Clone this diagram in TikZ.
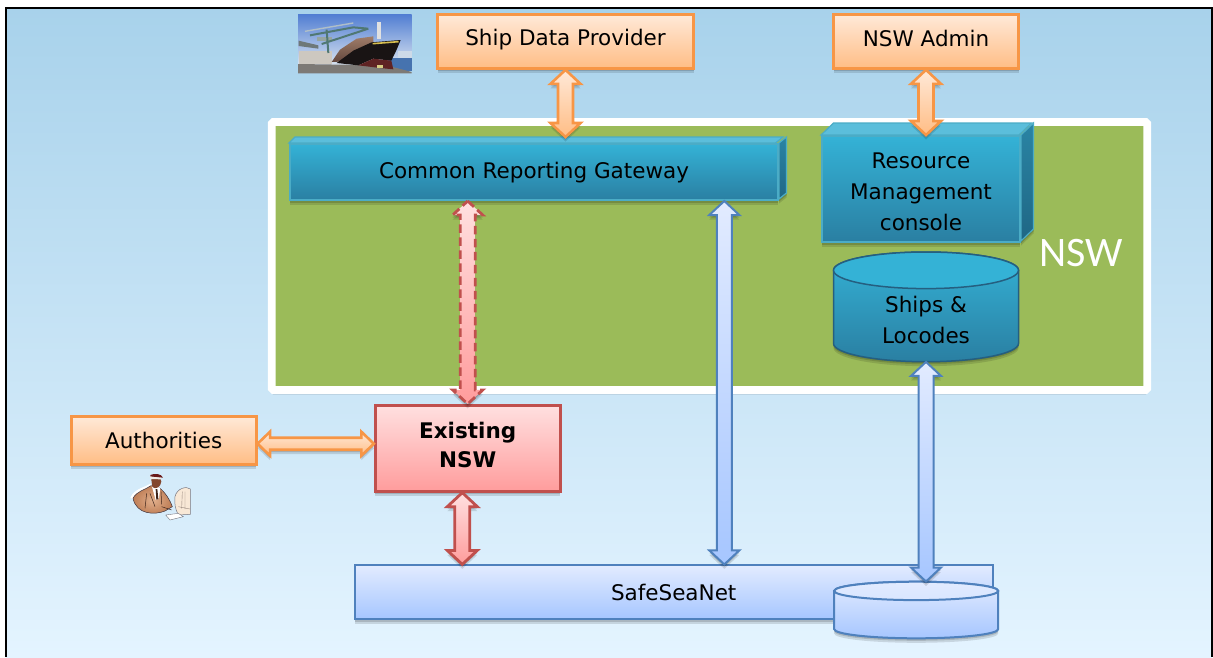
\documentclass[tikz,border=0pt]{standalone}
\usepackage{fontspec}
\setmainfont{DejaVu Sans}
\newfontfamily\nswfont{Carlito}
\usetikzlibrary{shadows,calc}
\definecolor{orL}{HTML}{FFE9D8}\definecolor{orD}{HTML}{FFBD85}\definecolor{orB}{HTML}{F79646}
\definecolor{reL}{HTML}{FFE0E0}\definecolor{reD}{HTML}{FF9C9C}\definecolor{reB}{HTML}{C0504D}
\definecolor{blL}{HTML}{E2EBFF}\definecolor{blD}{HTML}{A6C6FF}\definecolor{blB}{HTML}{4F81BD}
\definecolor{teL}{HTML}{34B2D6}\definecolor{teD}{HTML}{2A7FA2}\definecolor{teB}{HTML}{4BACC6}
\definecolor{teT}{HTML}{5BBEDB}\definecolor{teS}{HTML}{2A84A4}\definecolor{teS2}{HTML}{1F6785}
\definecolor{drumB}{HTML}{255F80}
\definecolor{bgT}{HTML}{A8D2EB}\definecolor{bgB}{HTML}{E4F4FF}
\definecolor{nswgreen}{RGB}{155,187,89}
\definecolor{skyT}{RGB}{80,125,210}\definecolor{skyB}{RGB}{215,226,240}
\definecolor{quay}{RGB}{205,218,232}\definecolor{sea}{RGB}{70,115,175}\definecolor{pier}{RGB}{125,122,118}
\definecolor{shed}{RGB}{205,200,192}\definecolor{shedgrey}{RGB}{110,120,120}
\definecolor{crane}{RGB}{80,120,115}\definecolor{cable}{RGB}{175,190,200}\definecolor{cab}{RGB}{150,165,160}
\definecolor{deck}{RGB}{100,72,62}\definecolor{deckL}{RGB}{160,125,105}\definecolor{mast}{RGB}{225,225,225}\definecolor{hull}{RGB}{25,20,20}
\definecolor{keel}{RGB}{95,35,35}\definecolor{stripe}{RGB}{215,190,80}\definecolor{cargo}{RGB}{215,205,130}
\definecolor{monitor}{RGB}{248,232,214}\definecolor{inkgrey}{RGB}{120,120,130}\definecolor{inkbrown}{RGB}{150,135,125}
\definecolor{inkdark}{RGB}{60,50,60}\definecolor{coatD}{RGB}{190,125,85}\definecolor{coatL}{RGB}{225,175,140}
\definecolor{coatline}{RGB}{60,35,25}\definecolor{face}{RGB}{130,70,45}\definecolor{band}{RGB}{240,235,230}\definecolor{hair}{RGB}{105,25,25}
\tikzset{
  softshadow/.style={
    general shadow={shadow xshift=0pt,shadow yshift=-1pt,fill=black,opacity=.14},
    general shadow={shadow xshift=0pt,shadow yshift=-2.5pt,fill=black,opacity=.14},
    general shadow={shadow xshift=0pt,shadow yshift=-4.5pt,fill=black,opacity=.12}},
  boxbase/.style={rectangle,softshadow,align=center,inner sep=0pt,text=black,
    font=\fontsize{21.5}{31}\selectfont},
  orangebox/.style={boxbase,draw=orB,line width=2.7pt,top color=orL,bottom color=orD},
  redbox/.style={boxbase,draw=reB,line width=2.7pt,top color=reL,bottom color=reD},
  bluebox/.style={boxbase,draw=blB,line width=2pt,top color=blL,bottom color=blD},
  tealbox/.style={boxbase,draw=teB,line width=2pt,top color=teL,bottom color=teD},
  textonly/.style={rectangle,align=center,inner sep=0pt,text=black,
    font=\fontsize{21.5}{31}\selectfont},
  boldtext/.style={textonly,font=\fontsize{21.5}{29}\selectfont\bfseries},
  orangelink/.style={draw=orB,line width=2.6pt,top color=orL,bottom color=orD,softshadow},
  redlink/.style={draw=reB,line width=2.8pt,top color=reL,bottom color=reD,softshadow},
  reddash/.style={draw=reB,line width=2.8pt,top color=reL,bottom color=reD,softshadow,dash pattern=on 8.5pt off 4.5pt},
  bluelink/.style={draw=blB,line width=2pt,top color=blL,bottom color=blD,softshadow},
  tealtop/.style={draw=teB,line width=1.2pt,fill=teT},
  tealside/.style={draw=teB,line width=1.2pt,top color=teS,bottom color=teS2,softshadow},
}
% vertical double block arrow: style, upper end, lower end
\newcommand{\vlink}[3]{%
  \draw[#1] let \p1=(#2), \p2=(#3) in
    (\x1,\y1) -- (\x1+15pt,\y1-14pt) -- (\x1+7.5pt,\y1-14pt) -- (\x2+7.5pt,\y2+14pt)
    -- (\x2+15pt,\y2+14pt) -- (\x2,\y2) -- (\x2-15pt,\y2+14pt) -- (\x2-7.5pt,\y2+14pt)
    -- (\x1-7.5pt,\y1-14pt) -- (\x1-15pt,\y1-14pt) -- cycle;}
% horizontal double block arrow: style, left end, right end
\newcommand{\hlink}[3]{%
  \draw[#1] let \p1=(#2), \p2=(#3) in
    (\x1,\y1) -- (\x1+12.5pt,\y1+12pt) -- (\x1+12.5pt,\y1+6pt) -- (\x2-12.5pt,\y2+6pt)
    -- (\x2-12.5pt,\y2+12pt) -- (\x2,\y2) -- (\x2-12.5pt,\y2-12pt) -- (\x2-12.5pt,\y2-6pt)
    -- (\x1+12.5pt,\y1-6pt) -- (\x1+12.5pt,\y1-12pt) -- cycle;}
% drum body: style, centre x, top y, x radius, y radius, height
\newcommand{\drumbody}[6]{%
  \draw[#1] (#2-#4,#3+#5) -- (#2-#4,#3+#6-#5)
    arc[start angle=180,end angle=360,x radius=#4pt,y radius=#5pt]
    -- (#2+#4,#3+#5)
    arc[start angle=0,end angle=180,x radius=#4pt,y radius=#5pt] -- cycle;}
\begin{document}
\begin{tikzpicture}[x=1pt,y=-1pt]
\useasboundingbox (0,0) rectangle (1213,657);
% page background
\fill[white] (0,0) rectangle (1213,657);
\shade[top color=bgT,bottom color=bgB] (6,8) rectangle (1211.5,657);
\draw[black,line width=2pt] (6,657) -- (6,8) -- (1211.5,8) -- (1211.5,657);

% NSW container
\node[rectangle,draw=white,line width=7.6pt,fill=nswgreen,
  rounded corners=1.5pt,softshadow,minimum width=875.5pt,minimum height=268pt,inner sep=0pt] (nsw) at (709.5,256) {};
\node[text=white,font=\nswfont\fontsize{42}{42}\selectfont,inner sep=0pt] (nswlabel) at (1081,253) {NSW};

% Photo of the ship
\begin{scope}[shift={(290,8)},x=.3333pt,y=-.3333pt]
  \shade[top color=skyT,bottom color=skyB] (24,18) rectangle (365,170);
  \fill[quay] (325,128) rectangle (365,150);
  \fill[sea] (295,150) rectangle (365,190);
  \fill[pier] (24,168) -- (290,172) -- (365,192) -- (365,196) -- (24,196) -- cycle;
  \fill[shed] (26,128) rectangle (125,168);
  \fill[shedgrey] (26,98) -- (85,112) -- (85,122) -- (26,114) -- cycle;
  \fill[cab] (80,88) rectangle (125,100);
  \draw[crane,line width=2pt] (60,82) -- (190,58) -- (235,62) (95,108) -- (235,62) (110,65) -- (115,135);
  \draw[cable,line width=1.4pt] (45,70) -- (190,45);
  \fill[mast] (262,42) rectangle (272,92);
  \shade[top color=deckL,bottom color=deck] (125,162) -- (150,125) -- (200,92) -- (250,85) -- (250,110) -- (170,160) -- cycle;
  \fill[hull] (140,165) -- (190,128) -- (245,103) -- (332,96) -- (320,125) -- (304,158) -- (250,152) -- (205,172) -- cycle;
  \fill[keel] (205,172) -- (250,152) -- (304,158) -- (310,184) -- (270,180) -- cycle;
  \draw[stripe,line width=1.6pt] (248,107) -- (326,101);
  \fill[cargo] (262,170) rectangle (278,180);
\end{scope}

% Clip-art of the officer at the computer
\begin{scope}[shift={(125,465)},x=.3333pt,y=-.3333pt]
  \draw[inkgrey,line width=.5pt,fill=monitor] (150,95) .. controls (155,70) and (185,62) .. (196,72) -- (196,148) -- (160,150) .. controls (150,130) and (148,115) .. (150,95) -- cycle;
  \draw[inkbrown,line width=.4pt] (172,80) -- (170,130) (180,80) -- (180,132) (160,125) -- (195,132);
  \draw[inkgrey,line width=.4pt,fill=white] (122,150) -- (160,145) -- (175,155) -- (135,165) -- cycle;
  \draw[white,line width=3pt] (20,100) .. controls (32,74) and (60,72) .. (78,60);
  \draw[inkdark,line width=.5pt,inner color=coatL,outer color=coatD] (24,100) .. controls (35,78) and (60,75) .. (78,62) -- (100,66) .. controls (120,80) and (135,105) .. (142,125) -- (120,138) .. controls (90,150) and (35,150) .. (24,100) -- cycle;
  \fill[white] (80,62) -- (106,68) -- (102,100) -- (92,105) -- cycle;
  \fill[coatline] (92,72) -- (97,72) -- (100,102) -- (94,104) -- cycle;
  \draw[coatline,line width=.5pt] (65,85) -- (60,130) (75,85) -- (90,125) (108,80) -- (110,118) (110,125) -- (140,135);
  \fill[face] (78,36) .. controls (88,30) and (110,33) .. (109,50) .. controls (107,68) and (90,74) .. (82,66) -- cycle;
  \fill[band] (74,34) -- (108,37) -- (108,43) -- (77,42) -- cycle;
  \fill[hair] (76,30) .. controls (88,24) and (110,26) .. (114,38) -- (76,34) -- cycle;
\end{scope}

% Boxes
\node[orangebox,minimum width=256pt,minimum height=54pt,text depth=7.5pt,text height=16pt] (provider) at (565.5,41.5) {Ship Data Provider};
\node[orangebox,minimum width=185pt,minimum height=54pt,text depth=5.5pt,text height=16pt] (admin) at (926,41.5) {NSW Admin};
\node[orangebox,minimum width=185pt,minimum height=48pt] (auth) at (163.7,440.2) {Authorities};
\node[redbox,minimum width=185pt,minimum height=86pt] (exist) at (467.7,448.3) {};
\node[boldtext] (existtext) at ([yshift=3pt]exist.center) {Existing\\NSW};

% Common Reporting Gateway: 3-D block
\node[tealbox,minimum width=488pt,minimum height=56pt,text height=18pt,text depth=5pt] (crg) at (534,172) {Common Reporting Gateway};
\draw[tealside] (crg.north east) -- ++(7.5,-6) -- ++(0,56) -- ++(-7.5,6) -- cycle;
\draw[tealtop] (crg.north west) -- ++(6,-6) -- ++(488,0) -- ++(-7.5,6) -- cycle;
\coordinate (crgtop) at ([yshift=6pt]crg.north);

% Resource Management console: 3-D block
\node[tealbox,minimum width=198pt,minimum height=106pt] (rmc) at (921,189) {};
\node[textonly] (rmctext) at ([yshift=-3pt]rmc.center) {Resource\\Management\\console};
\draw[tealside] (rmc.north east) -- ++(12.5,-12) -- ++(0,106) -- ++(-12.5,12) -- cycle;
\draw[tealtop] (rmc.north west) -- ++(12.5,-12) -- ++(198,0) -- ++(-12.5,12) -- cycle;

% Ships & Locodes database
\drumbody{draw=drumB,line width=1.5pt,top color=teL,bottom color=teD,softshadow}{926}{252}{92.5}{18.3}{109.7}
\draw[draw=drumB,line width=1.5pt,fill=teL] (926,270.3) ellipse[x radius=92.5pt,y radius=18.3pt];
\node[rectangle,inner sep=0pt,minimum width=185pt,minimum height=109.7pt] (ships) at (926,306.85) {};
\node[textonly] (shipstext) at (926,320) {Ships \&\\Locodes};

% SafeSeaNet bar and its store
\node[bluebox,minimum width=638pt,minimum height=53.6pt] (ssn) at (673.7,592.2) {SafeSeaNet};
\drumbody{draw=blB,line width=2pt,top color=blL,bottom color=blD,softshadow}{916.2}{581.7}{82}{9.2}{56.6}
\draw[draw=blB,line width=2pt,top color=blL,bottom color=blL!85!blD] (916.2,590.9) ellipse[x radius=82pt,y radius=9.2pt];
\node[rectangle,inner sep=0pt,minimum width=164pt,minimum height=56.6pt] (store) at (916.2,610) {};

% Anchors for the connectors that run off-centre
\coordinate (gwlink) at (724.3,0);
\coordinate (oldlink) at (462.3,0);
\coordinate (authlink) at (0,443.7);

% Connectors
\vlink{orangelink}{provider.south}{provider.south |- crgtop}
\vlink{orangelink}{admin.south}{admin.south |- rmc.north}
\hlink{orangelink}{auth.east |- authlink}{exist.west |- authlink}
\vlink{reddash}{crg.south -| exist.north}{exist.north}
\vlink{redlink}{exist.south -| oldlink}{ssn.north -| oldlink}
\vlink{bluelink}{crg.south -| gwlink}{ssn.north -| gwlink}
\vlink{bluelink}{ships.south}{ships.south |- store.north}
\end{tikzpicture}
\end{document}
